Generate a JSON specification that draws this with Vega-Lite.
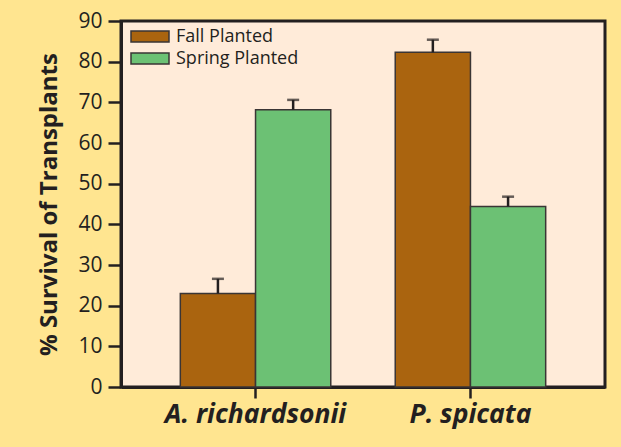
{
  "$schema": "https://vega.github.io/schema/vega-lite/v6.json",
  "width": 484,
  "height": 366,
  "autosize": {"type": "none"},
  "padding": {"left": 121, "top": 21, "right": 16, "bottom": 60},
  "background": "#FFE590",
  "config": {
    "font": "Open Sans",
    "view": {"fill": "#FFEBD9", "stroke": "#231f20", "strokeWidth": 3},
    "axis": {"labelColor": "#231f20", "titleColor": "#231f20", "domainColor": "#231f20", "tickColor": "#231f20", "grid": false}
  },
  "data": {"values": [
    {"species": "A. richardsonii", "season": "Fall Planted", "value": 23.0, "upper": 26.6},
    {"species": "A. richardsonii", "season": "Spring Planted", "value": 68.2, "upper": 70.6},
    {"species": "P. spicata", "season": "Fall Planted", "value": 82.3, "upper": 85.4},
    {"species": "P. spicata", "season": "Spring Planted", "value": 44.4, "upper": 46.8}
  ]},
  "encoding": {
    "x": {
      "field": "species", "type": "nominal",
      "scale": {"paddingInner": 0.3, "paddingOuter": 0.276},
      "axis": {"title": null, "labelAngle": 0, "labelFontSize": 26.5, "labelFontWeight": "bold", "labelFontStyle": "italic", "labelLimit": 400, "tickSize": 11, "tickWidth": 2.5, "domainWidth": 3, "labelPadding": 3}
    },
    "xOffset": {"field": "season", "type": "nominal", "scale": {"paddingInner": 0, "paddingOuter": 0}}
  },
  "layer": [
    {
      "mark": {"type": "bar", "stroke": "#3a3535", "strokeWidth": 1.5},
      "encoding": {
        "y": {
          "field": "value", "type": "quantitative",
          "scale": {"domain": [0, 90], "nice": false},
          "axis": {"values": [0, 10, 20, 30, 40, 50, 60, 70, 80, 90], "title": "% Survival of Transplants", "titleFontSize": 24, "titleFontWeight": "bold", "titlePadding": 16, "labelFontSize": 21, "tickSize": 13, "tickWidth": 2.5, "domainWidth": 3, "labelPadding": 6}
        },
        "fill": {
          "field": "season", "type": "nominal",
          "scale": {"domain": ["Fall Planted", "Spring Planted"], "range": ["#AA640F", "#6CC174"]},
          "legend": {
            "title": null, "orient": "none", "legendX": 9, "legendY": 4.75,
            "symbolType": "M-1,-0.29H1V0.29H-1Z", "symbolSize": 1444,
            "symbolStrokeColor": "#3a3535", "symbolStrokeWidth": 1.5,
            "labelFontSize": 18, "labelColor": "#231f20", "labelOffset": 6,
            "clipHeight": 21.5, "rowPadding": 0, "padding": 0
          }
        }
      }
    },
    {
      "mark": {"type": "rule", "color": "#231f20", "strokeWidth": 2.5},
      "encoding": {
        "y": {"field": "value", "type": "quantitative"},
        "y2": {"field": "upper"}
      }
    },
    {
      "mark": {"type": "tick", "color": "#231f20", "thickness": 2.5, "size": 12},
      "encoding": {
        "y": {"field": "upper", "type": "quantitative"}
      }
    }
  ]
}
